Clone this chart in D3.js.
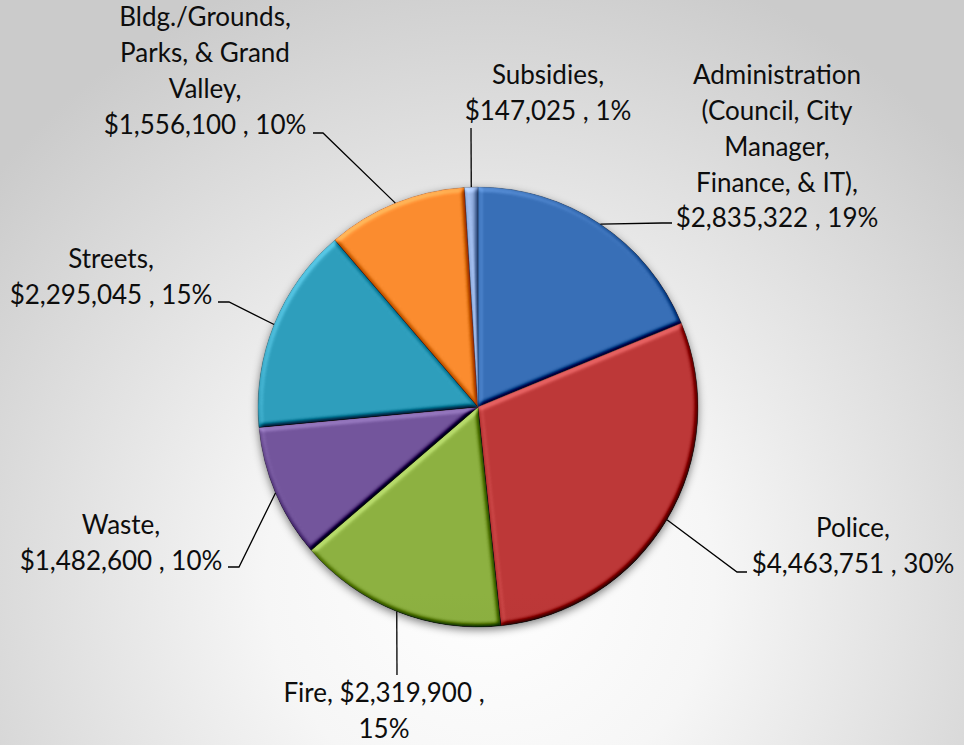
<!DOCTYPE html>
<html>
<head>
<meta charset="utf-8">
<script src="https://cdn.jsdelivr.net/npm/d3@7"></script>
<style>
  body { margin: 0; padding: 0; }
  svg { display: block; }
  .lbl { font-family: Lato, "Open Sans", sans-serif; font-size: 26px; fill: #0d0d0d; white-space: pre; }
</style>
</head>
<body>
<div id="chart"></div>
<script>
// budget by department
const categories = [
  "Administration (Council, City Manager, Finance, & IT)",
  "Police",
  "Fire",
  "Waste",
  "Streets",
  "Bldg./Grounds, Parks, & Grand Valley",
  "Subsidies"
];
const values = [2835322, 4463751, 2319900, 1482600, 2295045, 1556100, 147025];
const colors = ["#3569ad", "#b33535", "#86a83e", "#6d5194", "#2c96b2", "#ee852d", "#8ca7d5"];

// label placement, offsets from the pie centre (text centre of first line, leader end)
const labelLayout = [
  { tx: 299, ty: -332, ex: 194, ey: -184, stub: -10, wrap: 192, keepValue: true },
  { tx: 375, ty: 121, ex: 269, ey: 165, stub: -10, wrap: 210, keepValue: true },
  { tx: -94, ty: 286, ex: -81, ey: 268, stub: 0, wrap: 240, keepValue: false },
  { tx: -357, ty: 118, ex: -250, ey: 160, stub: 11, wrap: 210, keepValue: true },
  { tx: -367, ty: -148, ex: -260, ey: -105, stub: 11, wrap: 210, keepValue: true },
  { tx: -273, ty: -390, ex: -165, ey: -274, stub: 10, wrap: 200, keepValue: true },
  { tx: 70, ty: -332, ex: -7, ey: -279, stub: 0, wrap: 200, keepValue: true }
];

const width = 964, height = 745;
const cx = 478, cy = 407, R = 220;
const lineH = 35.8;

const svg = d3.select("#chart").append("svg")
  .attr("width", width)
  .attr("height", height);

const defs = svg.append("defs");

// background
const bg = defs.append("radialGradient")
  .attr("id", "bg")
  .attr("gradientUnits", "userSpaceOnUse")
  .attr("cx", 490).attr("cy", 580).attr("r", 640);
bg.append("stop").attr("offset", "0%").attr("stop-color", "#ffffff");
bg.append("stop").attr("offset", "35%").attr("stop-color", "#f6f6f6");
bg.append("stop").attr("offset", "100%").attr("stop-color", "#cbcbcb");

svg.append("rect")
  .attr("width", width)
  .attr("height", height)
  .attr("fill", "url(#bg)");

// shadow under the pie
const shadow = defs.append("filter").attr("id", "shadow")
  .attr("x", "-20%").attr("y", "-20%").attr("width", "140%").attr("height", "140%");
shadow.append("feGaussianBlur").attr("stdDeviation", 4);

// bevel for each slice
const bevel = defs.append("filter").attr("id", "bevel")
  .attr("x", "-10%").attr("y", "-10%").attr("width", "120%").attr("height", "120%")
  .attr("color-interpolation-filters", "sRGB");
bevel.append("feGaussianBlur").attr("in", "SourceAlpha").attr("stdDeviation", 2.5).attr("result", "blur");
bevel.append("feDiffuseLighting")
  .attr("in", "blur").attr("surfaceScale", 4).attr("diffuseConstant", 1)
  .attr("lighting-color", "#ffffff").attr("result", "light")
  .append("feDistantLight").attr("azimuth", 235).attr("elevation", 50);
bevel.append("feComposite")
  .attr("in", "SourceGraphic").attr("in2", "light")
  .attr("operator", "arithmetic")
  .attr("k1", 0).attr("k2", 1).attr("k3", 0.7).attr("k4", -0.536)
  .attr("result", "lit");
bevel.append("feComposite").attr("in", "lit").attr("in2", "SourceAlpha").attr("operator", "in");

// vertical shading per slice
colors.forEach((c, i) => {
  const g = defs.append("linearGradient")
    .attr("id", "grad" + i)
    .attr("gradientUnits", "userSpaceOnUse")
    .attr("x1", 0).attr("y1", cy - R)
    .attr("x2", 0).attr("y2", cy + R);
  g.append("stop").attr("offset", "0%").attr("stop-color", d3.color(c).brighter(0.15));
  g.append("stop").attr("offset", "100%").attr("stop-color", d3.color(c).darker(0.45));
});

const root = svg.append("g").attr("transform", `translate(${cx},${cy})`);

root.append("circle")
  .attr("cy", 3)
  .attr("r", R)
  .attr("fill", "rgba(0,0,0,0.5)")
  .attr("filter", "url(#shadow)");

const pie = d3.pie().sort(null).value(d => d);
const arcs = pie(values);
const arc = d3.arc().innerRadius(0).outerRadius(R);

root.selectAll("path.slice")
  .data(arcs)
  .join("path")
  .attr("class", "slice")
  .attr("d", arc)
  .attr("fill", (d, i) => `url(#grad${i})`)
  .attr("stroke", (d, i) => d3.color(colors[i]).darker(0.8))
  .attr("stroke-width", 0.6)
  .attr("filter", "url(#bevel)");

// labels
const total = d3.sum(values);
const money = d3.format("$,.0f");
const NB = "\u00a0";

const measure = root.append("text").attr("class", "lbl").attr("visibility", "hidden");
function textWidth(s) {
  measure.text(s);
  return measure.node().getComputedTextLength();
}
function wrap(words, maxW) {
  const lines = [];
  let cur = "";
  words.forEach(w => {
    const test = cur ? cur + " " + w : w;
    if (cur && textWidth(test) > maxW) {
      lines.push(cur);
      cur = w;
    } else {
      cur = test;
    }
  });
  if (cur) lines.push(cur);
  return lines;
}

arcs.forEach((d, i) => {
  const L = labelLayout[i];
  const mid = (d.startAngle + d.endAngle) / 2;
  const sx = R * Math.sin(mid), sy = -R * Math.cos(mid);
  const pts = L.stub ? [[sx, sy], [L.ex + L.stub, L.ey], [L.ex, L.ey]] : [[sx, sy], [L.ex, L.ey]];

  root.append("path")
    .attr("d", d3.line()(pts))
    .attr("fill", "none")
    .attr("stroke", "#000")
    .attr("stroke-width", 1.3);

  const pct = Math.round(d.value / total * 100) + "%";
  const words = (categories[i] + ",").split(" ");
  if (L.keepValue) {
    words.push(money(d.value) + NB + "," + NB + pct);
  } else {
    words.push(money(d.value) + NB + ",", pct);
  }
  const lines = wrap(words, L.wrap);

  const t = root.append("text")
    .attr("class", "lbl")
    .attr("text-anchor", "middle");
  lines.forEach((ln, k) => {
    t.append("tspan")
      .attr("x", L.tx)
      .attr("y", L.ty + k * lineH)
      .attr("dy", "0.35em")
      .text(ln);
  });
});
measure.remove();
</script>
</body>
</html>
